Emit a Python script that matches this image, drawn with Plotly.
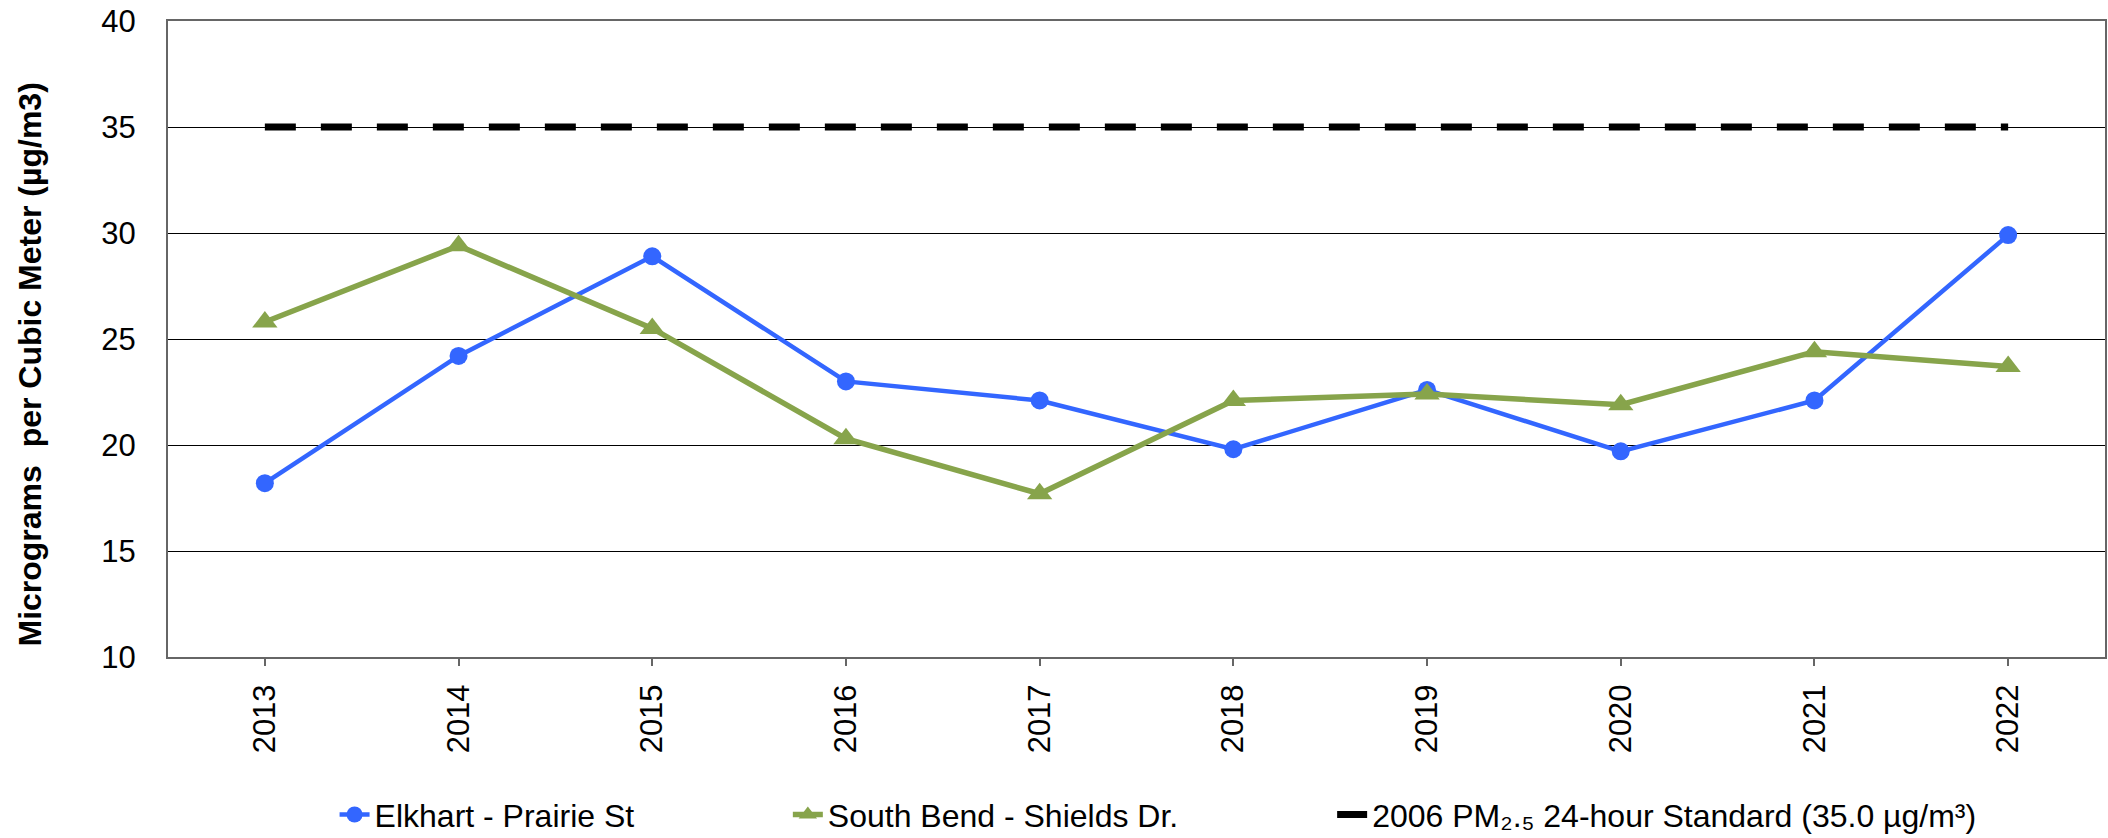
import plotly.graph_objects as go

years = ["2013", "2014", "2015", "2016", "2017", "2018", "2019", "2020", "2021", "2022"]
elkhart = [18.2, 24.2, 28.9, 23.0, 22.1, 19.8, 22.6, 19.7, 22.1, 29.9]
south_bend = [25.8, 29.4, 25.5, 20.3, 17.7, 22.1, 22.4, 21.9, 24.4, 23.7]
standard = [35.0] * len(years)

names = ["Elkhart - Prairie St", "South Bend - Shields Dr.",
         "2006 PM\u2082.\u2085 24-hour Standard (35.0 \u00b5g/m\u00b3)"]
y_title = "Micrograms  per Cubic Meter (\u00b5g/m3)"

FONT = "Liberation Sans, Arial, sans-serif"
BLUE = "#3366FF"
GREEN = "#87A44B"

fig = go.Figure()
fig.add_trace(go.Scatter(
    x=years, y=elkhart, name=names[0], mode="lines+markers",
    line=dict(color=BLUE, width=4.5),
    marker=dict(symbol="circle", size=18, color=BLUE),
    legend="legend", showlegend=True,
))
fig.add_trace(go.Scatter(
    x=years, y=south_bend, name=names[1], mode="lines+markers",
    line=dict(color=GREEN, width=5.5),
    marker=dict(symbol="triangle-up", size=22, color=GREEN),
    legend="legend2", showlegend=True,
))
fig.add_trace(go.Scatter(
    x=years, y=standard, name=names[2], mode="lines",
    line=dict(color="black", width=7, dash="31px,25px"),
    legend="legend3", showlegend=True,
))

leg_common = dict(orientation="h", yanchor="middle", y=-0.248, xanchor="left",
                  font=dict(family=FONT, size=32, color="black"),
                  bgcolor="rgba(0,0,0,0)", borderwidth=0)

fig.update_layout(
    width=2108, height=838,
    showlegend=True,
    margin=dict(l=168, r=3, t=21, b=181, autoexpand=False),
    paper_bgcolor="white", plot_bgcolor="white",
    font=dict(family=FONT, size=30, color="black"),
    legend=dict(x=0.086, **leg_common),
    legend2=dict(x=0.320, **leg_common),
    legend3=dict(x=0.601, **leg_common),
    xaxis=dict(
        type="category", categoryorder="array", categoryarray=years,
        range=[-0.5, 9.5], automargin=False,
        tickangle=-90, ticks="outside", ticklen=7, tickcolor="#666666", tickwidth=2,
        showline=True, linecolor="#666666", linewidth=2, mirror=True,
        showgrid=False, tickfont=dict(family=FONT, size=31, color="black"),
        ticklabelstandoff=6,
    ),
    yaxis=dict(
        range=[10, 40], dtick=5, tick0=10, automargin=False,
        showgrid=True, gridcolor="black", gridwidth=1,
        showline=True, linecolor="#666666", linewidth=2, mirror=True,
        zeroline=False, ticks="", ticklabelstandoff=24,
        tickfont=dict(family=FONT, size=31, color="black"),
    ),
    annotations=[dict(
        text=y_title, xref="paper", yref="paper", x=-0.0712, y=0.46,
        xanchor="center", yanchor="middle", textangle=-90, showarrow=False,
        font=dict(family=FONT, size=32, color="black", weight="bold"),
    )],
)

fig.write_html("out.html", config={"displayModeBar": False},
               post_script="document.body.style.margin='0';document.body.style.padding='0';")
